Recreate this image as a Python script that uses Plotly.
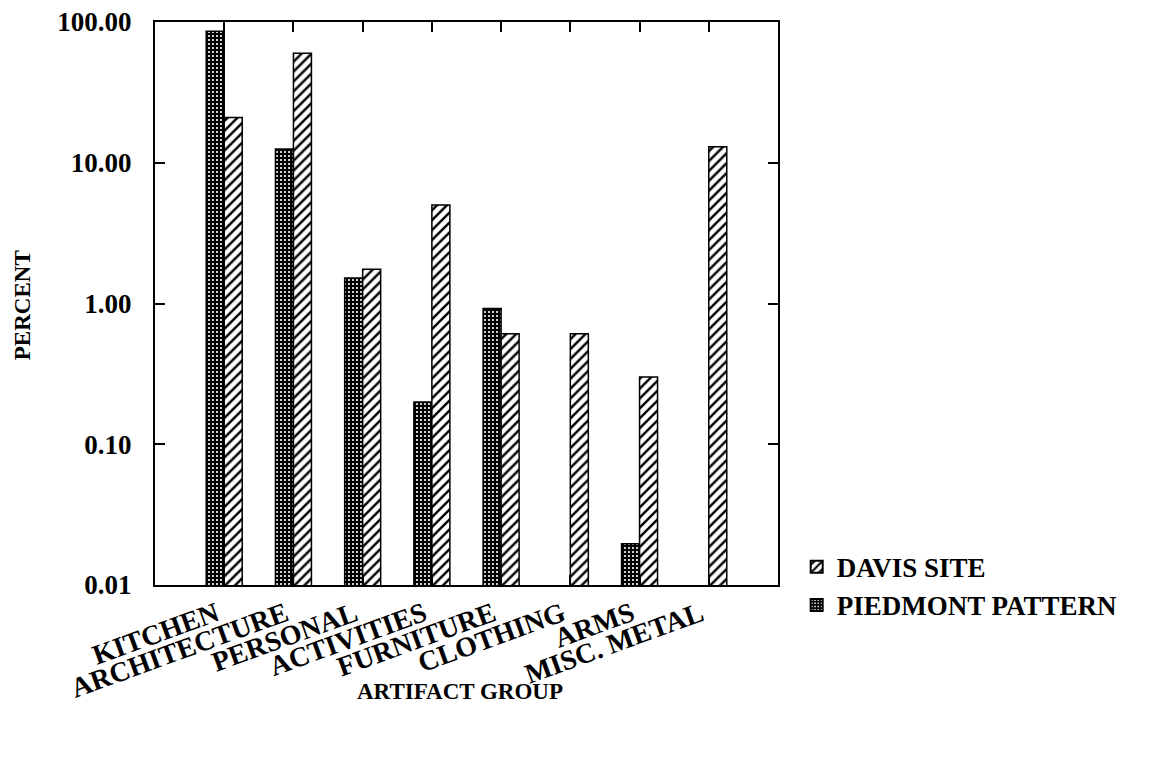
import plotly.graph_objects as go

categories = ["KITCHEN", "ARCHITECTURE", "PERSONAL", "ACTIVITIES",
              "FURNITURE", "CLOTHING", "ARMS", "MISC. METAL"]
davis_site = [21.0, 60.0, 1.75, 5.0, 0.61, 0.61, 0.30, 13.0]
piedmont_pattern = [86.0, 12.5, 1.52, 0.20, 0.92, None, 0.0196, None]
y_tickvals = [0.01, 0.1, 1, 10, 100]
y_ticktext = ["0.01", "0.10", "1.00", "10.00", "100.00"]

FONT = "Liberation Serif"

fig = go.Figure()
fig.add_trace(go.Bar(
    x=categories, y=piedmont_pattern, name="PIEDMONT PATTERN",
    marker=dict(color="black", line=dict(color="black", width=1.5),
                pattern=dict(shape=".", fgcolor="white", bgcolor="black",
                             size=4, solidity=0.22, fillmode="replace")),
))
fig.add_trace(go.Bar(
    x=categories, y=davis_site, name="DAVIS SITE",
    marker=dict(color="white", line=dict(color="black", width=1.5),
                pattern=dict(shape="/", fgcolor="black", bgcolor="white",
                             size=7, solidity=0.35, fillmode="replace")),
))

fig.update_layout(
    width=1146, height=745,
    margin=dict(l=147, r=376, t=14, b=168, autoexpand=False),
    paper_bgcolor="white", plot_bgcolor="white",
    barmode="group", bargap=0.48, bargroupgap=0,
    font=dict(family=FONT, size=24, color="black"),
    legend=dict(x=1.03, y=0.075, xanchor="left", yanchor="top",
                traceorder="reversed",
                font=dict(family=FONT, size=27, color="black", weight="bold"),
                itemsizing="constant", bgcolor="rgba(0,0,0,0)"),
    showlegend=True,
)
fig.update_xaxes(
    type="category", range=[-1, 8], automargin=False,
    showline=True, linecolor="black", linewidth=2, mirror="ticks",
    ticks="inside", ticklen=10, tickwidth=2, tickcolor="black",
    tickangle=-20, ticklabelshift=-8, showgrid=False, zeroline=False,
    tickfont=dict(family=FONT, size=28, color="black", weight="bold"),
)
fig.update_yaxes(
    type="log", range=[-2, 2], automargin=False,
    tickmode="array", tickvals=y_tickvals, ticktext=y_ticktext,
    showline=True, linecolor="black", linewidth=2, mirror="ticks",
    ticks="inside", ticklen=10, tickwidth=2, tickcolor="black",
    ticklabelstandoff=16, ticklabeloverflow="allow",
    showgrid=False, zeroline=False,
    tickfont=dict(family=FONT, size=27, color="black", weight="bold"),
)
fig.add_annotation(
    text="ARTIFACT GROUP", xref="paper", yref="paper",
    x=0.49, y=-0.19, xanchor="center", yanchor="middle", showarrow=False,
    font=dict(family=FONT, size=23, color="black", weight="bold"),
)
fig.add_annotation(
    text="PERCENT", xref="paper", yref="paper", textangle=-90,
    x=-0.2135, y=0.497, xanchor="center", yanchor="middle", showarrow=False,
    font=dict(family=FONT, size=23, color="black", weight="bold"),
)
fig.write_html("out.html")
